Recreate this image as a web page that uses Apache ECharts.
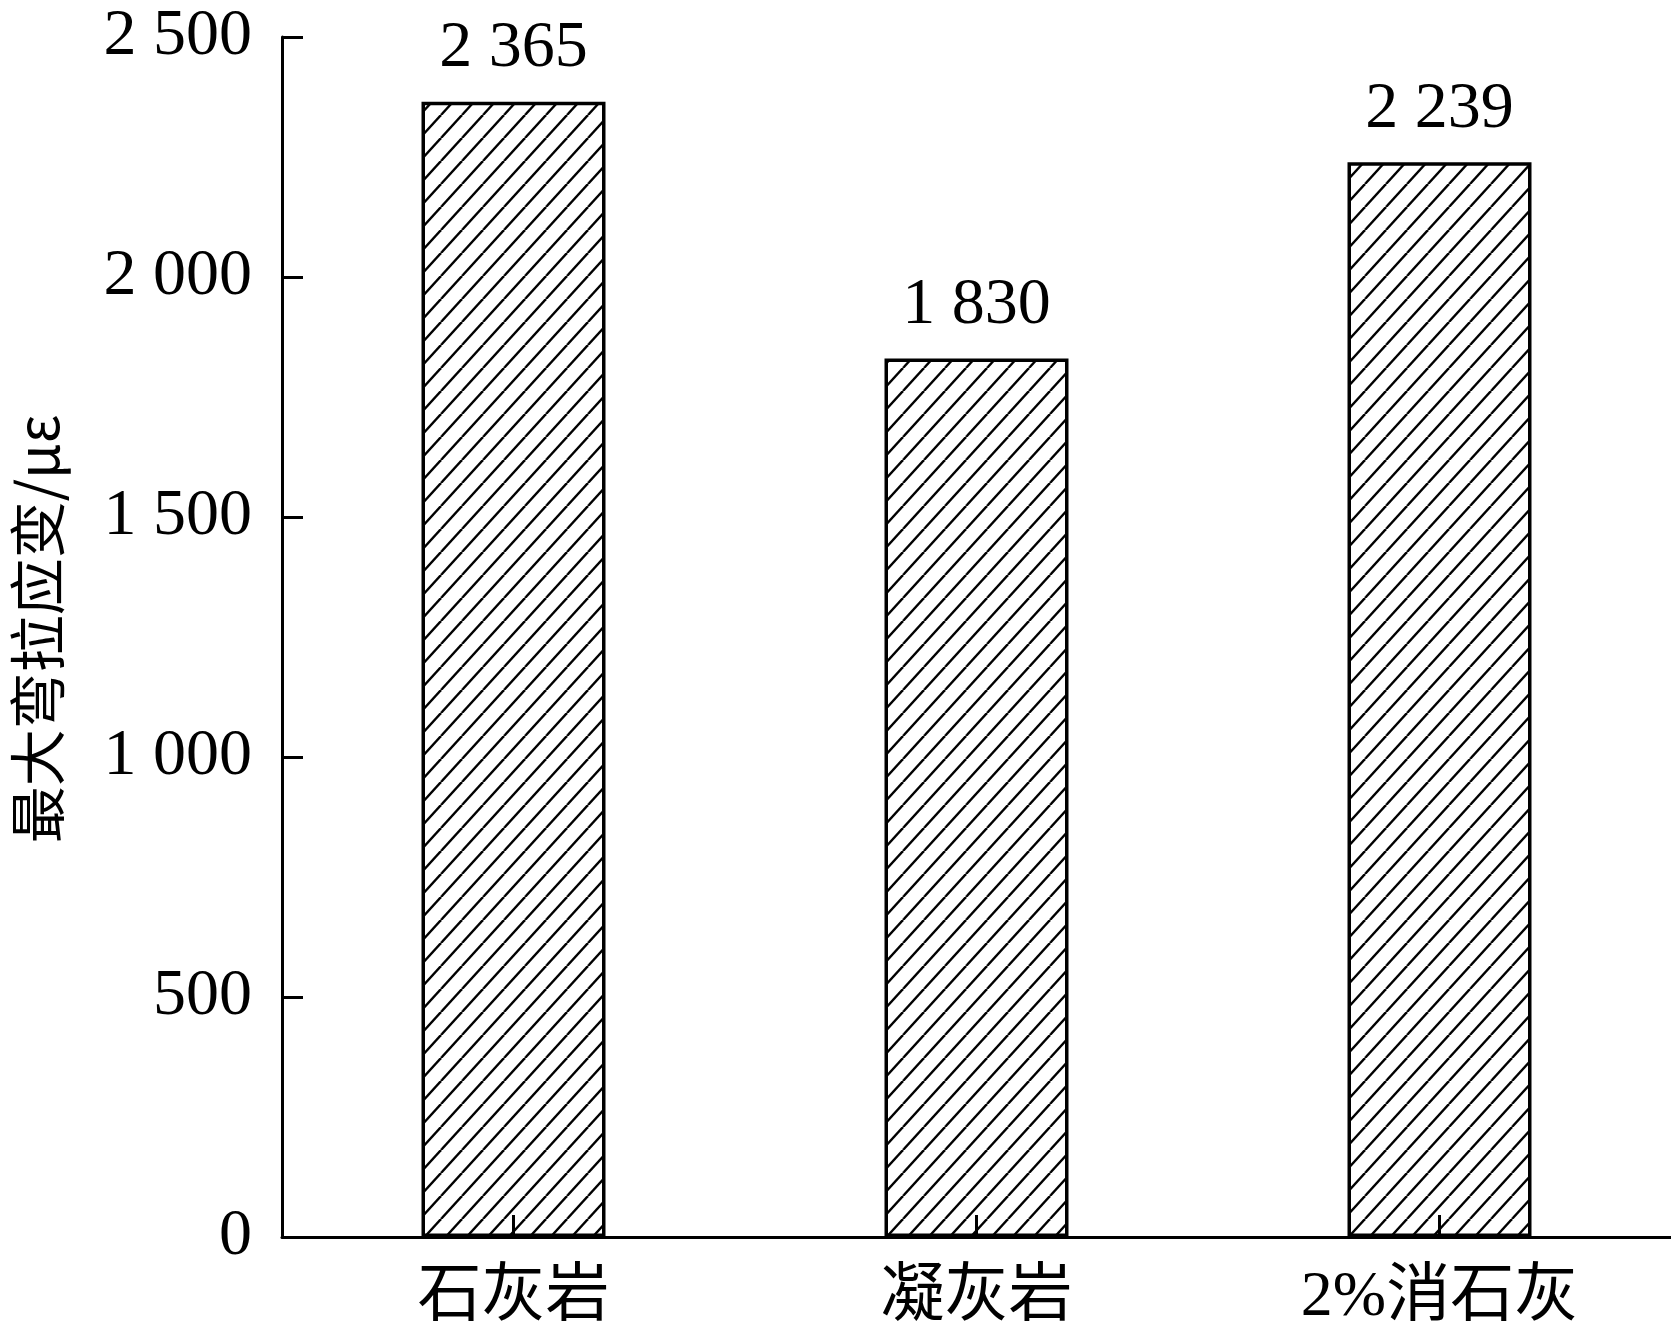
<!DOCTYPE html>
<html>
<head>
<meta charset="utf-8">
<script src="https://cdn.jsdelivr.net/npm/echarts@6/dist/echarts.min.js"></script>
<style>
  html, body { margin: 0; padding: 0; background: #fff; }
  #chart { width: 1671px; height: 1343px; }
</style>
</head>
<body>
<div id="chart"></div>
<script>
// 数据
const categories = ['石灰岩', '凝灰岩', '2%消石灰'];
const strainValues = [2365, 1830, 2239];
const yTicks = [0, 500, 1000, 1500, 2000, 2500];

const serifFont = '"Liberation Serif", "Times New Roman", "Noto Sans CJK SC", serif';
const cjkFont = '"Liberation Serif", "Noto Sans CJK SC", serif';

// 千分位用空格分隔，如 2 365
const fmt = v => {
  const s = String(v);
  return s.length > 3 ? s.slice(0, s.length - 3) + ' ' + s.slice(-3) : s;
};

// 斜线填充图案
const makeHatch = () => {
  const w = 21, h = 23;
  const c = document.createElement('canvas');
  c.width = w; c.height = h;
  const ctx = c.getContext('2d');
  ctx.fillStyle = '#fff';
  ctx.fillRect(0, 0, w, h);
  ctx.strokeStyle = '#000';
  ctx.lineWidth = 2.4;
  for (let k = -1; k <= 1; k++) {
    ctx.beginPath();
    ctx.moveTo(k * w, h);
    ctx.lineTo(k * w + w, 0);
    ctx.stroke();
  }
  return c;
};

const chart = echarts.init(document.getElementById('chart'));

chart.setOption({
  backgroundColor: '#fff',
  animation: false,
  grid: { left: 282, right: 0, top: 37, bottom: 106 },
  xAxis: {
    type: 'category',
    data: categories,
    z: 5,
    axisLine: { lineStyle: { color: '#000', width: 3 } },
    axisTick: { show: true, inside: true, alignWithLabel: true, length: 22, lineStyle: { color: '#000', width: 3 } },
    axisLabel: { color: '#000', fontSize: 64, fontFamily: cjkFont, margin: 29 },
    splitLine: { show: false }
  },
  yAxis: {
    type: 'value',
    min: yTicks[0],
    max: yTicks[yTicks.length - 1],
    interval: 500,
    name: '最大弯拉应变/με',
    nameLocation: 'middle',
    nameGap: 216,
    nameTextStyle: { color: '#000', fontSize: 57, fontFamily: '"Noto Sans CJK SC", serif', padding: [0, 0, 0, 16] },
    axisLine: { show: true, lineStyle: { color: '#000', width: 3 } },
    axisTick: { show: true, inside: true, length: 21, lineStyle: { color: '#000', width: 3 } },
    axisLabel: { color: '#000', fontSize: 66, fontFamily: serifFont, margin: 30, formatter: fmt },
    splitLine: { show: false }
  },
  series: [{
    type: 'bar',
    data: strainValues,
    barWidth: 184,
    itemStyle: {
      color: { image: makeHatch(), repeat: 'repeat' },
      borderColor: '#000',
      borderWidth: 3.5
    },
    label: {
      show: true,
      position: 'top',
      distance: 20,
      color: '#000',
      fontSize: 66,
      fontFamily: serifFont,
      formatter: p => fmt(p.value)
    }
  }]
});
</script>
</body>
</html>
